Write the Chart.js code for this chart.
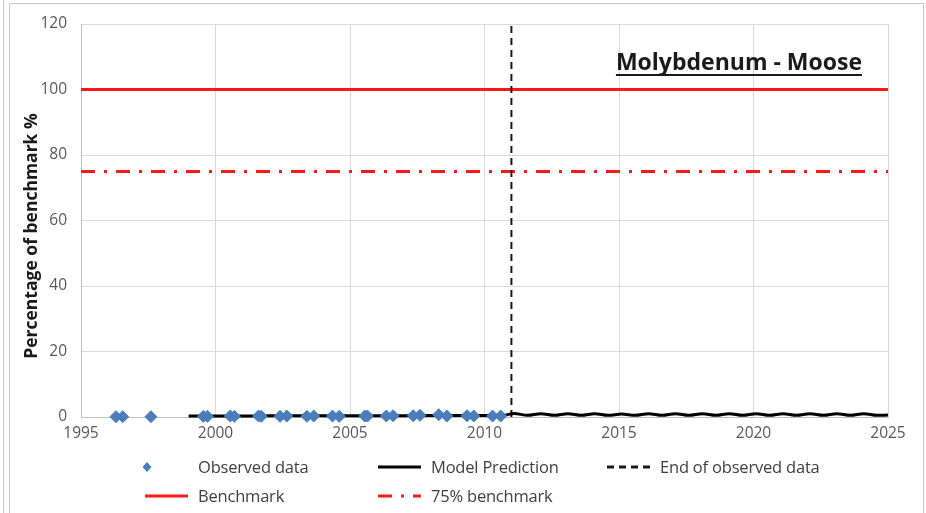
<!DOCTYPE html>
<html>
<head>
<meta charset="utf-8">
<script src="https://cdn.jsdelivr.net/npm/chart.js@4.4.1/dist/chart.umd.min.js"></script>
<style>
  html, body { margin: 0; padding: 0; background: #fff; }
  body { width: 926px; height: 513px; position: relative; overflow: hidden; font-family: "Open Sans", Lato, sans-serif; }
  #page-edge { position: absolute; left: 3px; top: 0; width: 1px; height: 513px; background: #c8c8c8; }
  #frame { position: absolute; left: 9px; top: 3px; width: 915px; height: 520px; border: 1px solid #c8c8c8; border-bottom: none; box-sizing: border-box; }
  #wrap { position: absolute; left: 0; top: 0; width: 926px; height: 513px; }
  #legend { position: absolute; left: 0; top: 0; width: 926px; height: 513px; pointer-events: none; }
  .item { position: absolute; display: flex; align-items: center; font-size: 16.5px; color: #404040; white-space: nowrap; letter-spacing: -0.2px; }
  .item svg { display: block; margin-right: 10px; }
</style>
</head>
<body>
<div id="page-edge"></div>
<div id="frame"></div>
<div id="wrap"><canvas id="chart" width="926" height="513"></canvas></div>
<div id="legend"></div>
<script>
// Axis ticks
const yearTicks = [1995, 2000, 2005, 2010, 2015, 2020, 2025];
const percentTicks = [0, 20, 40, 60, 80, 100, 120];

// Sampled concentrations as percentage of benchmark
const obsYears = [1996.3, 1996.55, 1997.6, 1999.55, 1999.7, 2000.55, 2000.7, 2001.6, 2001.7,
  2002.4, 2002.65, 2003.4, 2003.65, 2004.35, 2004.6, 2005.55, 2005.65, 2006.35, 2006.6,
  2007.35, 2007.6, 2008.3, 2008.6, 2009.35, 2009.6, 2010.3, 2010.6];
const obsValues = [0.1, 0.1, 0.1, 0.2, 0.2, 0.3, 0.2, 0.3, 0.2,
  0.2, 0.3, 0.2, 0.3, 0.3, 0.2, 0.3, 0.3, 0.3, 0.4,
  0.4, 0.5, 0.7, 0.3, 0.4, 0.3, 0.3, 0.3];

// Modelled concentration
const predYears = [1999.0, 2000.0, 2001.0, 2002.0, 2003.0, 2004.0, 2005.0, 2006.0, 2007.0, 2008.0,
  2009.0, 2010.0, 2010.7, 2011.1, 2011.6, 2012.1, 2012.6, 2013.1, 2013.6, 2014.1, 2014.6,
  2015.1, 2015.6, 2016.1, 2016.6, 2017.1, 2017.6, 2018.1, 2018.6, 2019.1, 2019.6,
  2020.1, 2020.6, 2021.1, 2021.6, 2022.1, 2022.6, 2023.1, 2023.6, 2024.1, 2024.6, 2025.0];
const predValues = [0.3, 0.3, 0.3, 0.35, 0.35, 0.35, 0.4, 0.4, 0.4, 0.45,
  0.45, 0.45, 0.5, 1.1, 0.5, 1.0, 0.5, 1.0, 0.5, 1.0, 0.5,
  0.9, 0.5, 1.0, 0.5, 1.0, 0.5, 1.0, 0.5, 1.0, 0.5,
  1.0, 0.5, 1.0, 0.5, 1.0, 0.5, 1.0, 0.5, 1.0, 0.5, 0.6];

// Reference lines
const observedEndYear = 2011.0;
const benchmarkLevel = 100;
const benchmark75Level = 75;
const xRange = [1995, 2025];
const yRange = [0, 120];

const chartTitle = 'Molybdenum - Moose';
const yAxisTitle = 'Percentage of benchmark %';

const toPoints = (xs, ys) => xs.map((x, i) => ({ x: x, y: ys[i] }));

const datasets = [
  {
    label: 'Observed data',
    data: toPoints(obsYears, obsValues),
    showLine: false,
    clip: false,
    pointStyle: 'rectRot',
    pointRadius: 6,
    pointBackgroundColor: '#4a7ebb',
    pointBorderColor: '#4a7ebb',
    pointBorderWidth: 1,
    legendKind: 'diamond'
  },
  {
    label: 'Model Prediction',
    data: toPoints(predYears, predValues),
    showLine: true,
    clip: false,
    borderColor: '#000000',
    borderWidth: 3,
    pointRadius: 0,
    cubicInterpolationMode: 'monotone',
    legendKind: 'line'
  },
  {
    label: 'End of observed data',
    data: [{ x: observedEndYear, y: yRange[0] }, { x: observedEndYear, y: yRange[1] }],
    showLine: true,
    borderColor: '#1a1a1a',
    borderWidth: 2,
    borderDash: [7, 5],
    pointRadius: 0,
    legendKind: 'line'
  },
  {
    label: 'Benchmark',
    data: [{ x: xRange[0], y: benchmarkLevel }, { x: xRange[1], y: benchmarkLevel }],
    showLine: true,
    borderColor: '#ff1a1a',
    borderWidth: 3,
    pointRadius: 0,
    legendKind: 'line'
  },
  {
    label: '75% benchmark',
    data: [{ x: xRange[0], y: benchmark75Level }, { x: xRange[1], y: benchmark75Level }],
    showLine: true,
    borderColor: '#ff1a1a',
    borderWidth: 3,
    borderDash: [14, 9, 3, 9],
    pointRadius: 0,
    legendKind: 'line'
  }
];

// Title inside the plot and the rotated y-axis caption
const annotations = {
  id: 'annotations',
  afterDatasetsDraw(chart) {
    const ctx = chart.ctx;
    const area = chart.chartArea;
    ctx.save();
    ctx.font = 'bold 23px "Open Sans", sans-serif';
    ctx.fillStyle = '#1a1a1a';
    ctx.textAlign = 'right';
    ctx.textBaseline = 'alphabetic';
    const tx = area.right - 26, ty = area.top + 46;
    ctx.fillText(chartTitle, tx, ty);
    const w = ctx.measureText(chartTitle).width;
    ctx.fillRect(tx - w, ty + 4, w, 2);
    ctx.restore();

    ctx.save();
    ctx.translate(32, 236);
    ctx.rotate(-Math.PI / 2);
    ctx.font = 'bold 17.5px "Open Sans", sans-serif';
    ctx.fillStyle = '#1a1a1a';
    ctx.textAlign = 'center';
    ctx.textBaseline = 'middle';
    ctx.fillText(yAxisTitle, 0, 0);
    ctx.restore();
  }
};

const chart = new Chart(document.getElementById('chart'), {
  type: 'scatter',
  data: { datasets: datasets },
  options: {
    responsive: false,
    animation: false,
    layout: { padding: { left: 10, top: 24, right: 38, bottom: 0 } },
    plugins: {
      legend: { display: false },
      tooltip: { enabled: false }
    },
    scales: {
      x: {
        type: 'linear',
        min: xRange[0],
        max: xRange[1],
        afterBuildTicks: (scale) => { scale.ticks = yearTicks.map(v => ({ value: v })); },
        afterFit: (scale) => { scale.height = 96; },
        grid: { color: '#d9d9d9', lineWidth: 1, drawTicks: false },
        border: { color: '#bfbfbf', width: 1 },
        ticks: {
          color: '#595959',
          font: { family: '"Open Sans", sans-serif', size: 15.5 },
          padding: 7,
          maxRotation: 0,
          callback: (v) => String(v)
        }
      },
      y: {
        type: 'linear',
        min: yRange[0],
        max: yRange[1],
        afterBuildTicks: (scale) => { scale.ticks = percentTicks.map(v => ({ value: v })); },
        afterFit: (scale) => { scale.width = 71; },
        grid: { color: '#d9d9d9', lineWidth: 1, drawTicks: false },
        border: { color: '#bfbfbf', width: 1 },
        ticks: {
          color: '#595959',
          font: { family: '"Open Sans", sans-serif', size: 15.5 },
          padding: 14
        }
      }
    }
  },
  plugins: [annotations]
});

// Legend laid out in two rows below the axis
const legendSlots = [
  { left: 138, top: 455 }, { left: 378, top: 455 }, { left: 607, top: 455 },
  { left: 145, top: 484 }, { left: 378, top: 484 }
];

function legendSymbol(ds) {
  const ns = 'http://www.w3.org/2000/svg';
  const svg = document.createElementNS(ns, 'svg');
  if (ds.legendKind === 'diamond') {
    svg.setAttribute('width', '50');
    svg.setAttribute('height', '20');
    const p = document.createElementNS(ns, 'polygon');
    p.setAttribute('points', '9,5 13.5,10 9,15 4.5,10');
    p.setAttribute('fill', ds.pointBackgroundColor);
    svg.appendChild(p);
  } else {
    svg.setAttribute('width', '43');
    svg.setAttribute('height', '20');
    const l = document.createElementNS(ns, 'line');
    l.setAttribute('x1', '0'); l.setAttribute('x2', '43');
    l.setAttribute('y1', '10'); l.setAttribute('y2', '10');
    l.setAttribute('stroke', ds.borderColor);
    l.setAttribute('stroke-width', '3');
    if (ds.borderDash) l.setAttribute('stroke-dasharray', ds.borderDash.join(' '));
    svg.appendChild(l);
  }
  return svg;
}

const legendBox = document.getElementById('legend');
chart.data.datasets.forEach((ds, i) => {
  const item = document.createElement('div');
  item.className = 'item';
  item.style.left = legendSlots[i].left + 'px';
  item.style.top = legendSlots[i].top + 'px';
  item.appendChild(legendSymbol(ds));
  const span = document.createElement('span');
  span.textContent = ds.label;
  item.appendChild(span);
  legendBox.appendChild(item);
});
</script>
</body>
</html>
